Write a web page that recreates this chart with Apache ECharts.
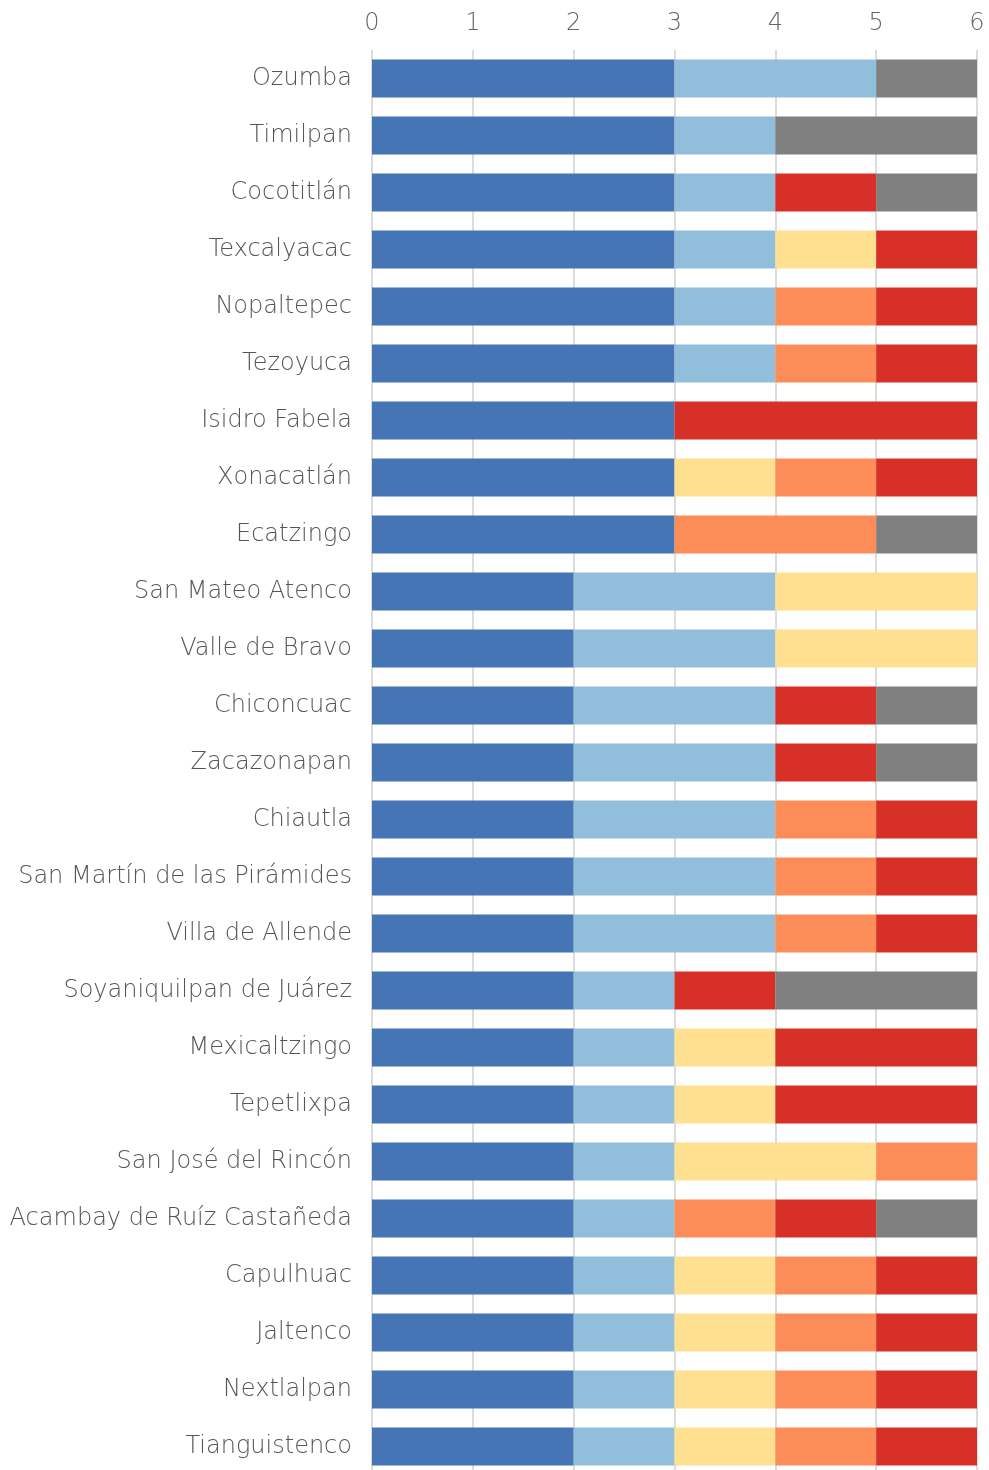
<!DOCTYPE html>
<html><head><meta charset="utf-8">
<script src="https://cdn.jsdelivr.net/npm/echarts@6/dist/echarts.min.js"></script>
<style>html,body{margin:0;padding:0;background:#fff;overflow:hidden}#c{width:989px;height:1476px}</style>
</head><body><div id="c"></div>
<script>
const categories = ["Ozumba","Timilpan","Cocotitlán","Texcalyacac","Nopaltepec","Tezoyuca","Isidro Fabela","Xonacatlán","Ecatzingo","San Mateo Atenco","Valle de Bravo","Chiconcuac","Zacazonapan","Chiautla","San Martín de las Pirámides","Villa de Allende","Soyaniquilpan de Juárez","Mexicaltzingo","Tepetlixpa","San José del Rincón","Acambay de Ruíz Castañeda","Capulhuac","Jaltenco","Nextlalpan","Tianguistenco"];
const darkBlue  = [3,3,3,3,3,3,3,3,3,2,2,2,2,2,2,2,2,2,2,2,2,2,2,2,2];
const lightBlue = [2,1,1,1,1,1,0,0,0,2,2,2,2,2,2,2,1,1,1,1,1,1,1,1,1];
const yellow    = [0,0,0,1,0,0,0,1,0,2,2,0,0,0,0,0,0,1,1,2,0,1,1,1,1];
const orange    = [0,0,0,0,1,1,0,1,2,0,0,0,0,1,1,1,0,0,0,1,1,1,1,1,1];
const red       = [0,0,1,1,1,1,3,1,0,0,0,1,1,1,1,1,1,2,2,0,1,1,1,1,1];
const gray      = [1,2,1,0,0,0,0,0,1,0,0,1,1,0,0,0,2,0,0,0,1,0,0,0,0];
const xTicks = [0,1,2,3,4,5,6];

const seriesDefs = [
  ["darkBlue", darkBlue, "#4575b4"],
  ["lightBlue", lightBlue, "#91bfdb"],
  ["yellow", yellow, "#fee090"],
  ["orange", orange, "#fc8d59"],
  ["red", red, "#d73027"],
  ["gray", gray, "#808080"]
];
const font = "'DejaVu Sans ExtraLight', 'DejaVu Sans', sans-serif";
const chart = echarts.init(document.getElementById('c'), null, {renderer:'canvas'});
chart.setOption({
  animation:false,
  grid:{left:372, top:50, width:605, height:1425, containLabel:false},
  xAxis:{type:'value', position:'top', min:xTicks[0], max:xTicks[xTicks.length-1], interval:1,
    axisLine:{show:false}, axisTick:{show:false},
    splitLine:{show:true, lineStyle:{color:'#dcdcdc', width:2}},
    axisLabel:{color:'#666', fontSize:24, fontFamily:font, fontWeight:200, margin:14}},
  yAxis:{type:'category', data:categories, inverse:true,
    axisLine:{show:false}, axisTick:{show:false}, splitLine:{show:false},
    axisLabel:{color:'#555', fontSize:24, fontFamily:font, fontWeight:200, margin:20}},
  series: seriesDefs.map(([name, data, color]) => ({
    name, type:'bar', stack:'total', data, barWidth:38,
    itemStyle:{color}, emphasis:{disabled:true}
  }))
});
</script></body></html>
